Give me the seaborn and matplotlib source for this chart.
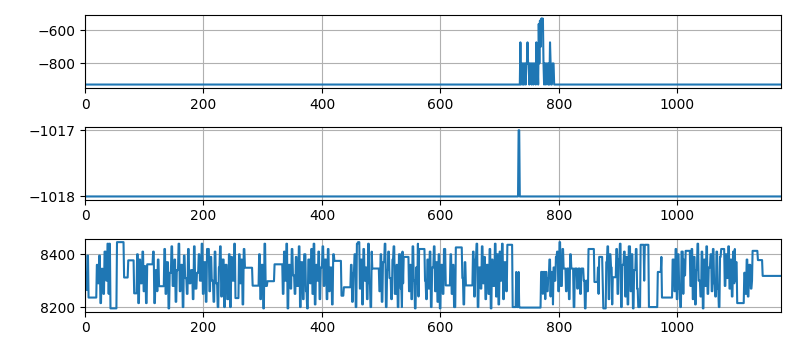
import numpy as np
import pandas as pd
import seaborn as sns
import matplotlib
matplotlib.use("Agg")
import matplotlib.pyplot as plt

# --------------------------- DATA (value, run length) ---------------------------
# panel 1: flat baseline with a burst of spikes around sample 735-792
p1_segments = [
    (-928, 735),
    (-672, 1), (-928, 1), (-800, 2), (-928, 1), (-800, 1), (-928, 1), (-800, 2),
    (-928, 1), (-800, 2), (-672, 1), (-800, 2), (-928, 1), (-800, 3), (-928, 1),
    (-800, 2), (-928, 1), (-800, 3), (-928, 1),
    (-672, 1), (-800, 2), (-928, 1), (-560, 1), (-800, 1), (-540, 1), (-700, 1),
    (-530, 1), (-526, 1), (-600, 1), (-528, 1), (-800, 1), (-928, 1),
    (-800, 2), (-928, 1), (-800, 3), (-928, 1), (-800, 1), (-928, 1), (-672, 1),
    (-800, 1), (-928, 2), (-800, 3),
    (-928, 384),
]

# panel 2: constant with a single step up
p2_segments = [(-1018, 732), (-1017, 2), (-1018, 442)]

# panel 3: noisy signal between ~8195 and ~8446
p3_segments = [
    (8330, 2), (8265, 2), (8395, 2), (8236, 14),
    (8360, 2), (8290, 2), (8395, 2), (8215, 2), (8345, 3), (8250, 2), (8410, 3),
    (8300, 2), (8440, 2), (8250, 1), (8440, 2),
    (8195, 11), (8446, 12), (8312, 7), (8377, 10), (8252, 5),
    (8400, 2), (8215, 2), (8380, 2), (8290, 3), (8410, 2), (8260, 2), (8355, 2),
    (8215, 2),
    (8362, 10),
    (8410, 2), (8215, 2), (8340, 3), (8260, 1), (8380, 2),
    (8279, 9),
    (8420, 2), (8250, 2), (8370, 3), (8195, 2), (8330, 3), (8430, 2), (8280, 3),
    (8380, 2), (8220, 2),
    (8340, 3), (8440, 2), (8260, 2), (8360, 3), (8200, 2), (8395, 2), (8310, 3),
    (8250, 2), (8420, 2), (8290, 3), (8340, 3), (8230, 2), (8430, 2), (8270, 3),
    (8330, 3), (8400, 2), (8300, 3), (8440, 2), (8250, 2), (8370, 3), (8220, 2),
    (8420, 4), (8260, 2), (8390, 2), (8300, 3), (8220, 2), (8410, 2), (8290, 3),
    (8200, 2), (8350, 2), (8430, 2), (8240, 2), (8380, 3), (8200, 2), (8360, 3),
    (8230, 3), (8400, 2), (8200, 2), (8390, 2), (8300, 3), (8440, 2),
    (8234, 6), (8400, 2), (8290, 2), (8380, 2), (8210, 2), (8420, 2),
    (8349, 13), (8281, 11),
    (8400, 2), (8230, 2), (8360, 3), (8195, 2), (8440, 2), (8280, 3),
    (8298, 12), (8362, 14),
    (8250, 2), (8410, 2), (8300, 2), (8440, 2), (8195, 2), (8360, 3), (8270, 2),
    (8420, 2),
    (8320, 3), (8250, 2), (8390, 2), (8280, 3), (8430, 2), (8200, 2), (8370, 3),
    (8230, 2), (8400, 3), (8260, 2), (8195, 2), (8380, 3), (8290, 2), (8420, 2),
    (8250, 2), (8440, 2), (8210, 2), (8360, 2), (8300, 2), (8410, 2), (8230, 2),
    (8350, 3),
    (8430, 2), (8280, 2), (8380, 3), (8230, 2), (8420, 2), (8260, 2), (8350, 3),
    (8210, 2), (8400, 2),
    (8375, 12), (8243, 4), (8275, 12),
    (8360, 2), (8220, 2), (8330, 2), (8400, 2), (8200, 2), (8440, 2),
    (8446, 3),
    (8270, 2), (8380, 2), (8210, 2), (8420, 2), (8300, 2), (8350, 2), (8230, 2),
    (8440, 2), (8290, 2), (8200, 2), (8410, 1),
    (8346, 12),
    (8260, 2), (8400, 2), (8220, 2), (8370, 3), (8440, 2), (8200, 2), (8340, 2),
    (8410, 2), (8310, 3), (8230, 2), (8380, 2), (8430, 2), (8250, 3), (8360, 2),
    (8200, 2), (8400, 3), (8270, 2),
    (8200, 1), (8410, 1), (8290, 1), (8390, 9),
    (8260, 2), (8360, 2), (8230, 2), (8430, 2), (8300, 2), (8195, 2), (8350, 2),
    (8290, 1), (8440, 1), (8240, 1), (8420, 10),
    (8300, 2), (8230, 2), (8380, 2), (8270, 2), (8410, 2), (8200, 2), (8350, 3),
    (8430, 2), (8260, 2), (8370, 2), (8220, 2), (8400, 2), (8195, 2), (8360, 3),
    (8250, 2), (8420, 3),
    (8282, 8),
    (8400, 2), (8250, 2), (8360, 2), (8200, 3),
    (8426, 11),
    (8310, 2), (8210, 2), (8370, 2),
    (8282, 12),
    (8410, 2), (8240, 2), (8380, 2), (8440, 2), (8200, 2), (8350, 3), (8270, 2),
    (8430, 2), (8290, 2), (8390, 2), (8230, 2),
    (8360, 3), (8250, 2), (8420, 2), (8195, 2), (8380, 2), (8280, 3), (8440, 2),
    (8240, 2), (8400, 2), (8210, 2), (8410, 2),
    (8300, 2), (8440, 2), (8230, 2), (8370, 3), (8260, 2),
    (8436, 9), (8200, 6), (8333, 1), (8200, 3), (8333, 1), (8200, 1), (8198, 36),
    (8333, 3), (8250, 1), (8333, 3), (8230, 1), (8333, 2), (8260, 2), (8310, 2),
    (8380, 2), (8240, 1), (8333, 3), (8210, 1), (8350, 2), (8300, 2), (8390, 2),
    (8410, 2), (8260, 2), (8446, 2), (8280, 3),
    (8420, 2), (8346, 4), (8260, 2), (8346, 3), (8230, 2), (8400, 2), (8346, 4),
    (8200, 2), (8346, 4), (8270, 2), (8346, 3), (8250, 2), (8346, 4), (8300, 2),
    (8195, 2),
    (8300, 2), (8260, 2), (8420, 10), (8295, 6),
    (8350, 1), (8250, 1), (8390, 6), (8300, 1), (8195, 5),
    (8370, 2), (8430, 2), (8230, 2), (8400, 2), (8350, 2), (8210, 1), (8313, 6),
    (8420, 2), (8250, 2), (8380, 2), (8440, 2), (8200, 2), (8360, 3), (8410, 2),
    (8240, 2), (8390, 2), (8210, 2), (8430, 3), (8260, 2), (8400, 2), (8195, 2),
    (8340, 3), (8420, 2), (8270, 2), (8200, 4),
    (8436, 6), (8300, 1), (8436, 7), (8200, 15), (8333, 6), (8390, 1), (8236, 18),
    (8380, 3), (8260, 2), (8420, 2), (8230, 2), (8400, 2), (8270, 2), (8200, 2),
    (8410, 3),
    (8250, 1), (8380, 1), (8320, 2), (8413, 8),
    (8280, 2), (8420, 2), (8230, 2), (8390, 2), (8210, 2), (8340, 2), (8440, 2),
    (8300, 3), (8240, 2), (8410, 2), (8195, 2), (8380, 2), (8280, 2), (8430, 2),
    (8250, 2), (8350, 3), (8400, 2), (8260, 2), (8420, 2), (8290, 2), (8240, 2),
    (8410, 2), (8270, 2), (8200, 2), (8390, 2),
    (8420, 6), (8280, 2), (8400, 2), (8310, 2),
    (8430, 2), (8270, 2), (8380, 2), (8240, 2), (8410, 2), (8290, 1),
    (8420, 1), (8300, 1), (8370, 2), (8215, 12),
    (8330, 2), (8250, 2), (8380, 2), (8240, 2), (8360, 3), (8270, 2),
    (8300, 1), (8413, 9), (8378, 8), (8318, 32),
]


def expand(segments):
    levels, runs = zip(*segments)
    vals = np.repeat(levels, runs)
    return pd.DataFrame({'sample': np.arange(len(vals)), 'value': vals})


panels = [expand(p1_segments), expand(p2_segments), expand(p3_segments)]
x_max = 1175

# --------------------------- PLOT ---------------------------
fig, axes = plt.subplots(3, 1, figsize=(7.96, 3.51), dpi=100)
fig.subplots_adjust(left=0.1068, right=0.9812, top=0.9573, bottom=0.112, hspace=0.536)

for ax, df in zip(axes, panels):
    sns.lineplot(data=df, x='sample', y='value', ax=ax, color='#1f77b4',
                 linewidth=1.5, estimator=None, sort=False)
    ax.set_xlim(0, x_max)
    ax.set_xlabel('')
    ax.set_ylabel('')
    ax.grid(True)

fig.savefig('out.png', dpi=100)
plt.close()
